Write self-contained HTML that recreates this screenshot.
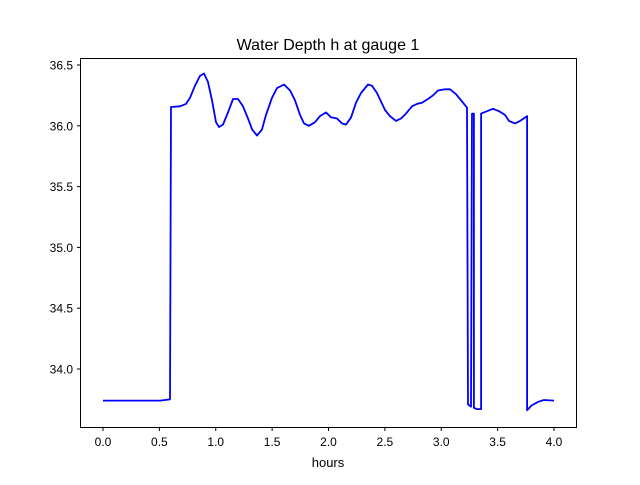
<!DOCTYPE html>
<html><head><meta charset="utf-8"><style>
body{margin:0;background:#fff}
svg text{font-family:"Liberation Sans","DejaVu Sans",sans-serif;fill:#000}
</style></head><body>
<svg width="640" height="480">
<rect x="0" y="0" width="640" height="480" fill="#fff"/>
<text x="328" y="50" font-size="16" text-anchor="middle">Water Depth h at gauge 1</text>
<g id="ticks"></g>
<path id="line" fill="none" stroke="#0000ff" stroke-width="1.8" stroke-linejoin="round"/>
<rect x="80.5" y="58.5" width="496" height="369" fill="none" stroke="#000" stroke-width="1"/>
<text x="328" y="467" font-size="13" text-anchor="middle">hours</text>
</svg>
<script>
const hours=[0,0.506,0.594,0.603,0.683,0.736,0.772,0.816,0.860,0.896,0.931,0.967,1.002,1.029,1.064,1.109,1.153,1.197,1.242,1.286,1.322,1.366,1.410,1.446,1.499,1.543,1.605,1.659,1.703,1.747,1.783,1.827,1.880,1.925,1.978,2.022,2.075,2.120,2.155,2.200,2.244,2.288,2.350,2.386,2.430,2.466,2.501,2.545,2.599,2.643,2.687,2.741,2.785,2.829,2.882,2.927,2.971,3.033,3.078,3.131,3.184,3.228,3.237,3.264,3.273,3.290,3.290,3.317,3.353,3.353,3.406,3.459,3.512,3.565,3.600,3.654,3.700,3.761,3.761,3.800,3.860,3.910,4.0];
const depth=[33.74,33.74,33.75,36.155,36.16,36.18,36.23,36.33,36.41,36.43,36.36,36.21,36.03,35.99,36.01,36.11,36.22,36.22,36.16,36.06,35.97,35.92,35.97,36.09,36.23,36.31,36.34,36.29,36.21,36.09,36.02,36.0,36.03,36.08,36.11,36.07,36.06,36.02,36.01,36.07,36.19,36.27,36.34,36.33,36.27,36.2,36.13,36.08,36.04,36.06,36.1,36.16,36.18,36.19,36.22,36.25,36.29,36.3,36.3,36.26,36.2,36.15,33.71,33.69,36.1,36.1,33.68,33.67,33.67,36.1,36.12,36.14,36.12,36.09,36.04,36.02,36.04,36.08,33.66,33.7,33.73,33.745,33.74];
const xTicks=[0,0.5,1,1.5,2,2.5,3,3.5,4];
const yTicks=[34.0,34.5,35.0,35.5,36.0,36.5];
const X=h=>103+h*112.75, Y=v=>65+(36.5-v)*121.6;
let d='';hours.forEach((h,i)=>{d+=(i?'L':'M')+X(h).toFixed(1)+' '+Y(depth[i]).toFixed(1)});
document.getElementById('line').setAttribute('d',d);
const g=document.getElementById('ticks'),ns='http://www.w3.org/2000/svg';
xTicks.forEach(t=>{const x=X(t);
const l=document.createElementNS(ns,'line');l.setAttribute('x1',x);l.setAttribute('x2',x);l.setAttribute('y1',427.5);l.setAttribute('y2',431);l.setAttribute('stroke','#000');

g.appendChild(l);
const tx=document.createElementNS(ns,'text');tx.setAttribute('x',x);tx.setAttribute('y',446);tx.setAttribute('font-size','12');tx.setAttribute('text-anchor','middle');tx.textContent=t.toFixed(1);

g.appendChild(tx);});
yTicks.forEach(t=>{const y=Y(t);
const l=document.createElementNS(ns,'line');l.setAttribute('x1',77);l.setAttribute('x2',80.5);l.setAttribute('y1',y);l.setAttribute('y2',y);l.setAttribute('stroke','#000');

g.appendChild(l);
const tx=document.createElementNS(ns,'text');tx.setAttribute('x',73);tx.setAttribute('y',y+4.5);tx.setAttribute('font-size','12');tx.setAttribute('text-anchor','end');tx.textContent=t.toFixed(1);

g.appendChild(tx);});
</script>
</body></html>
